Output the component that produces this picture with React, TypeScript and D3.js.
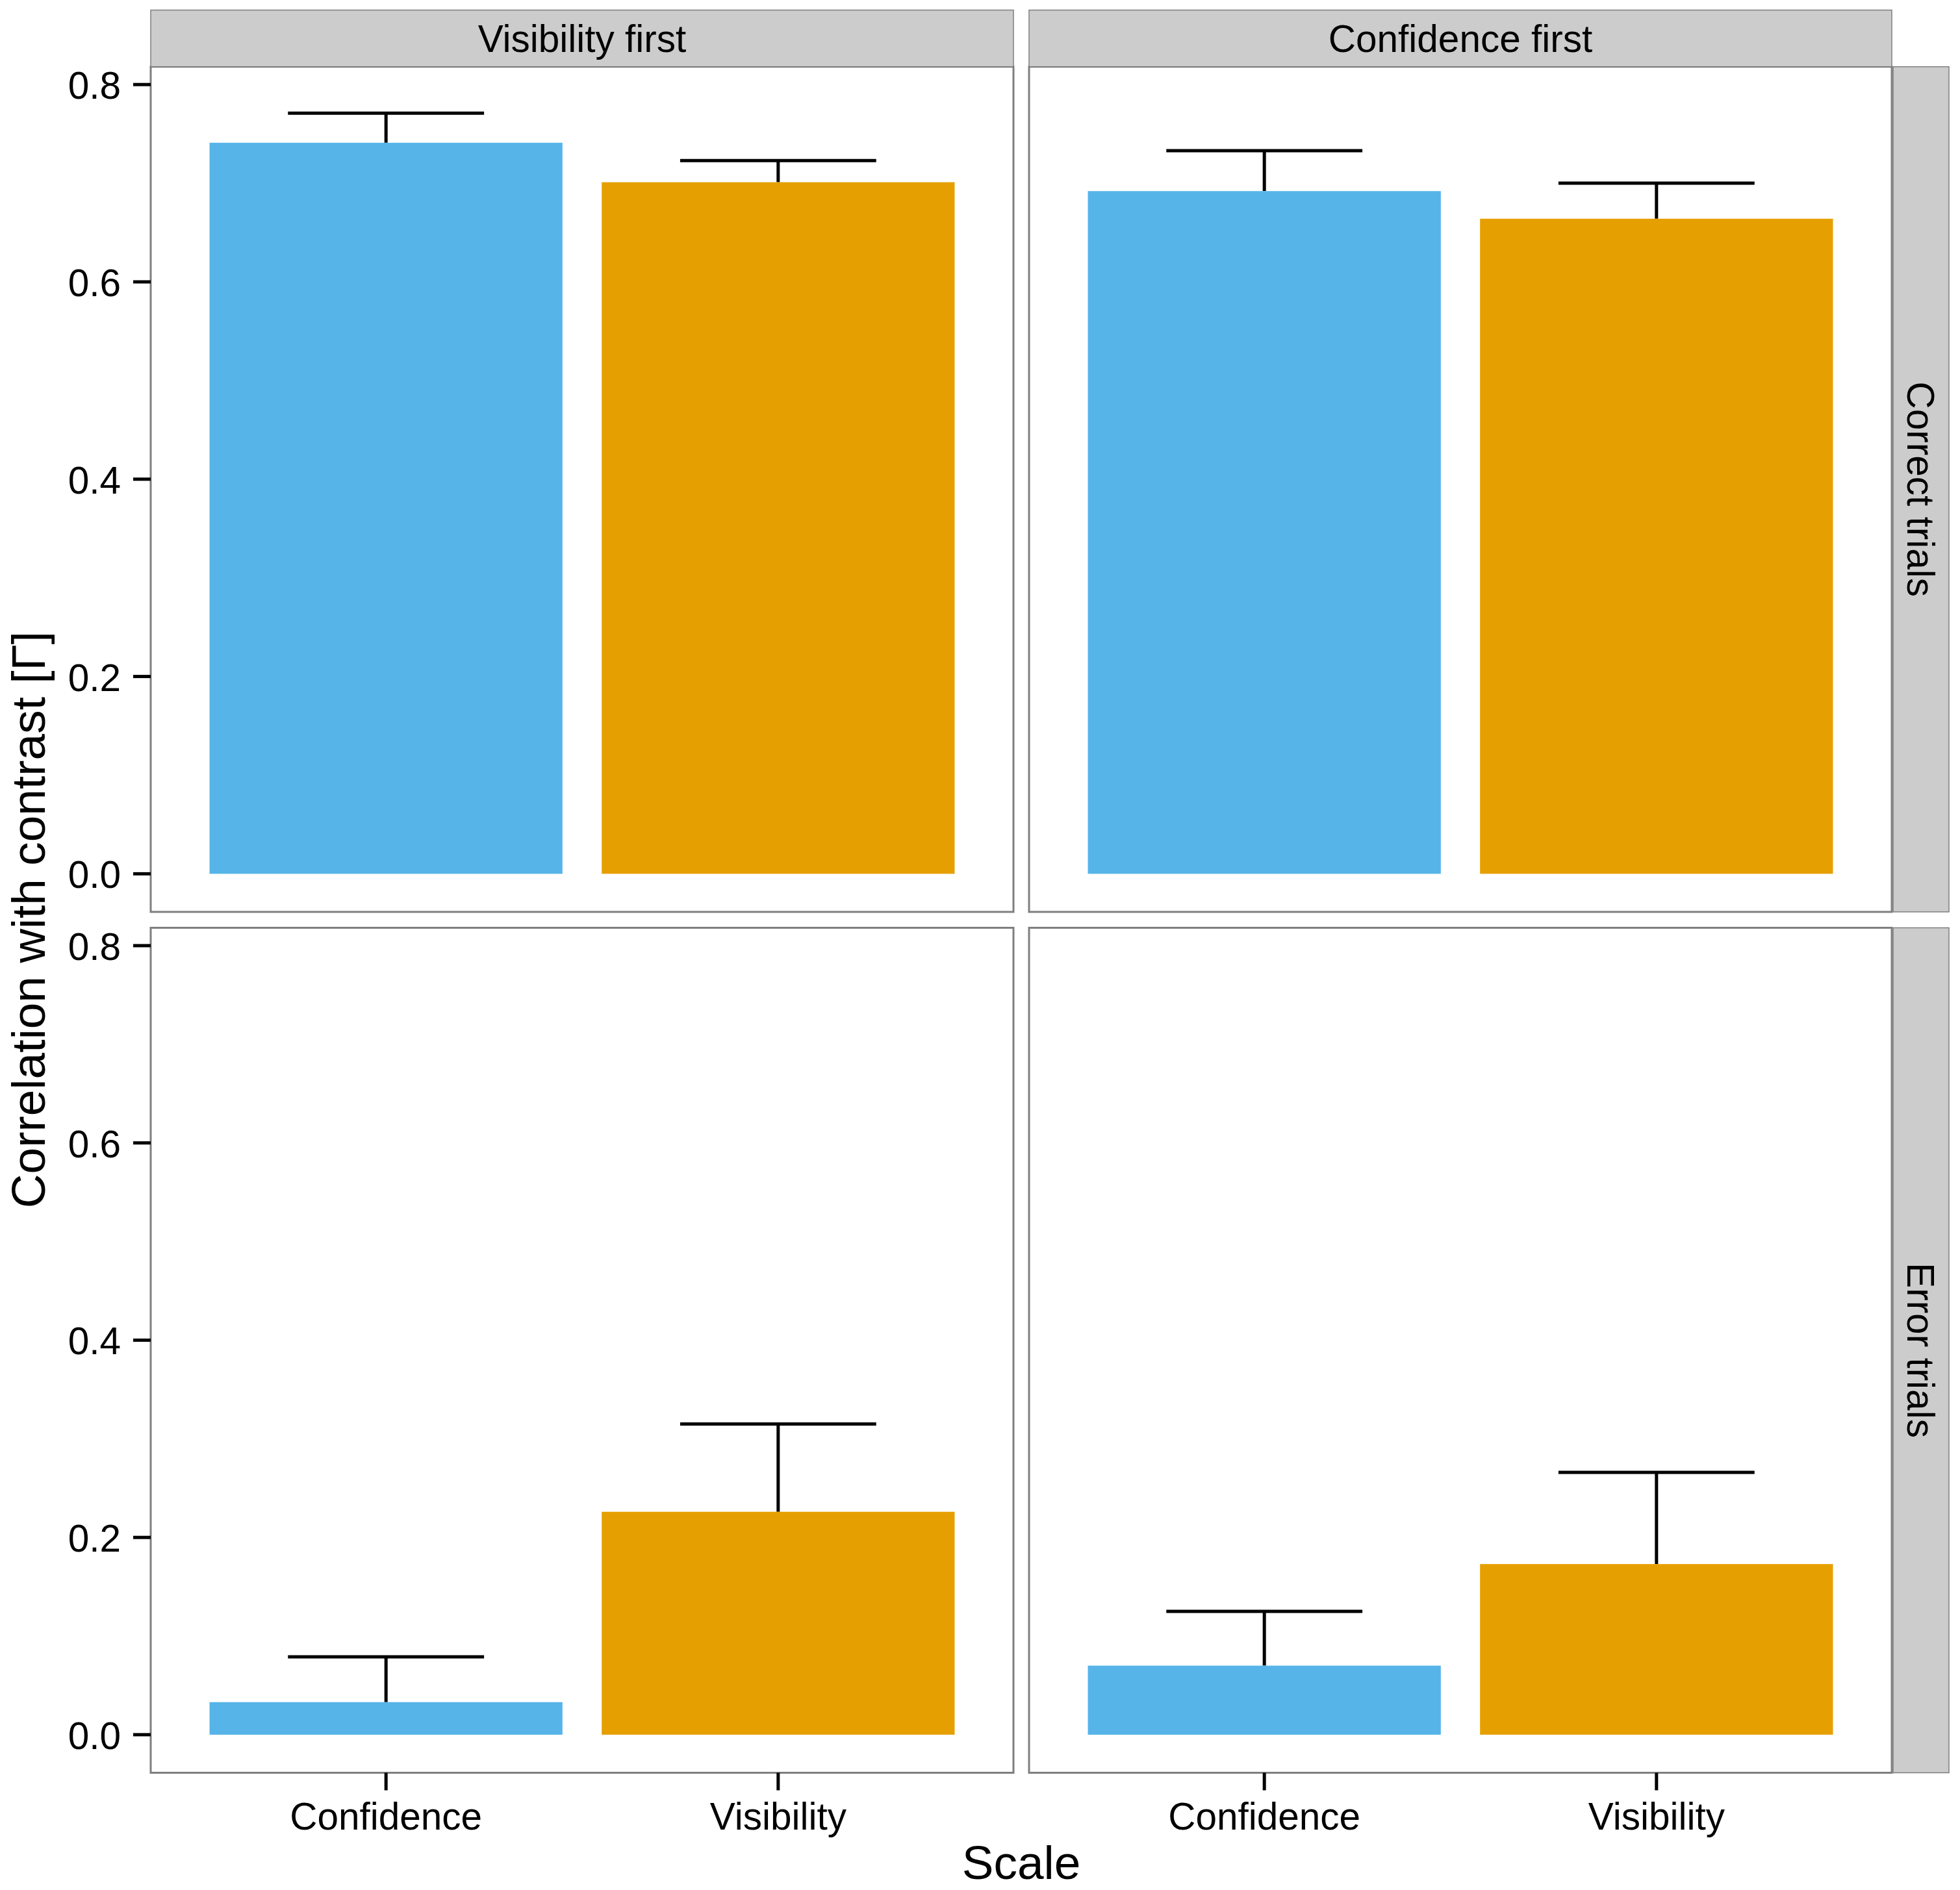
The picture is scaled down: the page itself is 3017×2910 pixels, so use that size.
import React from "react";
import * as d3 from "d3";

// ---- data ----
const orders = ["Visibility first", "Confidence first"];
const trialTypes = ["Correct trials", "Error trials"];
const scaleNames = ["Confidence", "Visibility"];
const yTicks = [0, 0.2, 0.4, 0.6, 0.8];

const visFirstCorrectMean = [0.741, 0.701];
const visFirstCorrectUpper = [0.771, 0.723];
const confFirstCorrectMean = [0.692, 0.664];
const confFirstCorrectUpper = [0.733, 0.7];
const visFirstErrorMean = [0.033, 0.226];
const visFirstErrorUpper = [0.079, 0.315];
const confFirstErrorMean = [0.07, 0.173];
const confFirstErrorUpper = [0.125, 0.266];

const barColors = ["#56B4E9", "#E69F00"];

// panel table built from the arrays: [row][col]
const means = [
  [visFirstCorrectMean, confFirstCorrectMean],
  [visFirstErrorMean, confFirstErrorMean],
];
const uppers = [
  [visFirstCorrectUpper, confFirstCorrectUpper],
  [visFirstErrorUpper, confFirstErrorUpper],
];

// ---- layout ----
const W = 3017;
const H = 2910;
const colX: [number, number][] = [
  [232, 1560],
  [1584, 2912],
];
const rowY: [number, number][] = [
  [102.7, 1404],
  [1428.5, 2729.5],
];
const stripTop = 15.5;
const stripRight = [2914, 3000];
const FONT = "'Liberation Sans', Arial, Helvetica, sans-serif";
const tickFs = 58.5;
const titleFs = 73;

export default function App() {
  const yDomain: [number, number] = [-0.0386, 0.8181];
  const fmt = d3.format(".1f");

  return (
    <div style={{ position: "absolute", left: 0, top: 0, background: "#fff" }}>
      <svg width={W} height={H} viewBox={`0 0 ${W} ${H}`} style={{ display: "block" }}>
        <rect x={0} y={0} width={W} height={H} fill="#fff" />
        {trialTypes.map((tt, r) =>
          orders.map((ord, c) => {
            const [x0, x1] = colX[c];
            const [y0, y1] = rowY[r];
            const x = d3
              .scaleBand<string>()
              .domain(scaleNames)
              .range([x0, x1])
              .paddingInner(0.1)
              .paddingOuter(0.15);
            const y = d3.scaleLinear().domain(yDomain).range([y1, y0]);
            const step = x.step();
            const capHalf = step * 0.25;
            return (
              <g key={`${r}-${c}`}>
                {scaleNames.map((s, i) => {
                  const cx = (x(s) as number) + x.bandwidth() / 2;
                  const m = means[r][c][i];
                  const u = uppers[r][c][i];
                  return (
                    <g key={s}>
                      <line x1={cx} x2={cx} y1={y(m)} y2={y(u)} stroke="#000" strokeWidth={5} />
                      <line x1={cx - capHalf} x2={cx + capHalf} y1={y(u)} y2={y(u)} stroke="#000" strokeWidth={5} />
                      <rect
                        x={x(s) as number}
                        y={y(m)}
                        width={x.bandwidth()}
                        height={y(0) - y(m)}
                        fill={barColors[i]}
                      />
                    </g>
                  );
                })}
                <rect x={x0} y={y0} width={x1 - x0} height={y1 - y0} fill="none" stroke="#7f7f7f" strokeWidth={3} />
                {c === 0 &&
                  yTicks.map((t) => (
                    <g key={t}>
                      <line x1={x0 - 27} x2={x0} y1={y(t)} y2={y(t)} stroke="#000" strokeWidth={5} />
                      <text
                        x={x0 - 46}
                        y={y(t) + 22}
                        textAnchor="end"
                        fontFamily={FONT}
                        fontSize={tickFs}
                        fill="#000"
                      >
                        {fmt(t)}
                      </text>
                    </g>
                  ))}
                {r === trialTypes.length - 1 &&
                  scaleNames.map((s) => {
                    const cx = (x(s) as number) + x.bandwidth() / 2;
                    return (
                      <g key={s}>
                        <line x1={cx} x2={cx} y1={y1} y2={y1 + 27} stroke="#000" strokeWidth={5} />
                        <text x={cx} y={2816.7} textAnchor="middle" fontFamily={FONT} fontSize={tickFs} fill="#000">
                          {s}
                        </text>
                      </g>
                    );
                  })}
                {r === 0 && (
                  <g>
                    <rect
                      x={x0}
                      y={stripTop}
                      width={x1 - x0}
                      height={y0 - stripTop}
                      fill="#CCCCCC"
                      stroke="#7f7f7f"
                      strokeWidth={1.5}
                    />
                    <text
                      x={(x0 + x1) / 2}
                      y={80}
                      textAnchor="middle"
                      fontFamily={FONT}
                      fontSize={tickFs}
                      fill="#000"
                    >
                      {ord}
                    </text>
                  </g>
                )}
                {c === orders.length - 1 && (
                  <g>
                    <rect
                      x={stripRight[0]}
                      y={y0}
                      width={stripRight[1] - stripRight[0]}
                      height={y1 - y0}
                      fill="#CCCCCC"
                      stroke="#7f7f7f"
                      strokeWidth={1.5}
                    />
                    <text
                      transform={`translate(${(stripRight[0] + stripRight[1]) / 2},${(y0 + y1) / 2}) rotate(90)`}
                      textAnchor="middle"
                      dy={tickFs * 0.36}
                      fontFamily={FONT}
                      fontSize={tickFs}
                      fill="#000"
                    >
                      {tt}
                    </text>
                  </g>
                )}
              </g>
            );
          })
        )}
        <text
          x={(colX[0][0] + colX[1][1]) / 2}
          y={2893}
          textAnchor="middle"
          fontFamily={FONT}
          fontSize={titleFs}
          fill="#000"
        >
          Scale
        </text>
        <text
          transform={`translate(69,${(rowY[0][0] + rowY[1][1]) / 2}) rotate(-90)`}
          textAnchor="middle"
          fontFamily={FONT}
          fontSize={titleFs}
          fill="#000"
        >
          Correlation with contrast [Γ]
        </text>
      </svg>
    </div>
  );
}
